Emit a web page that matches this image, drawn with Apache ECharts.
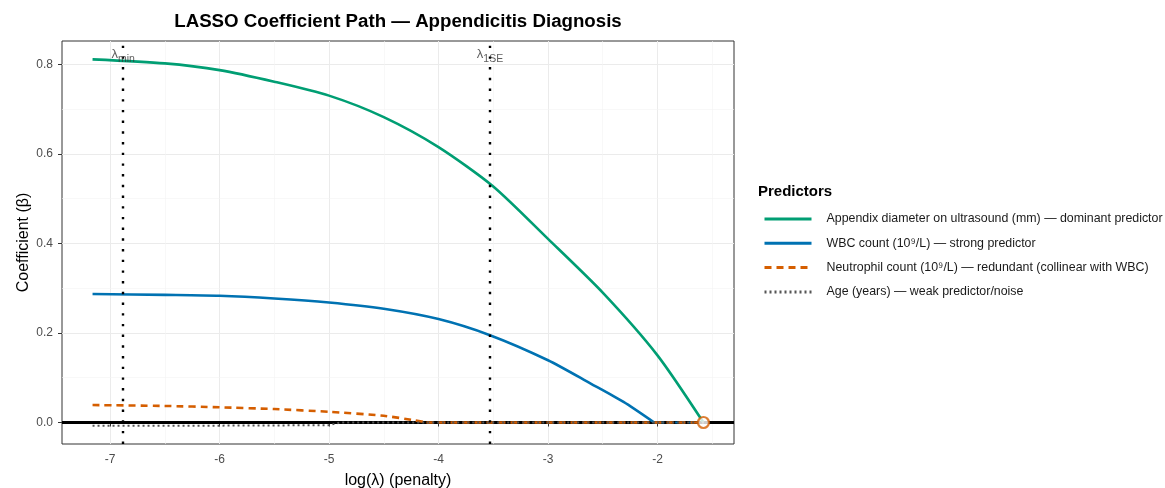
<!DOCTYPE html>
<html><head><meta charset="utf-8">
<script src="https://cdn.jsdelivr.net/npm/echarts@6/dist/echarts.min.js"></script>
<style>html,body{margin:0;padding:0;background:#fff}#c{width:1165px;height:488px}</style>
</head><body><div id="c"></div>
<script>
// ---- data (log lambda, coefficient) ----
const appendixX  = [-7.16, -6.5, -6, -5.5, -5, -4.5, -4, -3.5, -3, -2.5, -2, -1.58];
const appendixY  = [0.811, 0.802, 0.787, 0.761, 0.730, 0.682, 0.615, 0.527, 0.410, 0.290, 0.150, 0.000];
const wbcX       = [-7.16, -6.5, -6, -5.5, -5, -4.5, -4, -3.53, -3, -2.61, -2.31, -2.03];
const wbcY       = [0.287, 0.285, 0.283, 0.277, 0.268, 0.254, 0.231, 0.195, 0.139, 0.087, 0.046, 0.000];
const wbcTailX   = [-2.03, -1.58];
const wbcTailY   = [0.000, 0.000];
const neutroX    = [-7.16, -6.5, -6, -5.5, -5, -4.5, -4.22, -4.11];
const neutroY    = [0.039, 0.037, 0.034, 0.030, 0.024, 0.015, 0.005, 0.000];
const neutroTailX = [-4.11, -1.58];
const neutroTailY = [0.000, 0.000];
const ageX       = [-7.16, -6, -5, -4.9, -1.58];
const ageY       = [-0.007, -0.007, -0.006, 0.000, 0.000];
const seriesNames = [
  'Appendix diameter on ultrasound (mm) — dominant predictor',
  'WBC count (10⁹/L) — strong predictor',
  'Neutrophil count (10⁹/L) — redundant (collinear with WBC)',
  'Age (years) — weak predictor/noise'
];
const lambdaLines = [-6.88, -3.53];
const lambdaSubs  = ['min', '1SE'];
const lambdaLabelY = 0.822;
const entryPoint = [-1.58, 0];
const xTicks = [-7, -6, -5, -4, -3, -2];
const yTicks = [0, 0.2, 0.4, 0.6, 0.8];
const xMinor = [-6.5, -5.5, -4.5, -3.5, -2.5, -1.5];
const yMinor = [0.1, 0.3, 0.5, 0.7];
const xRange = [-7.439, -1.301];
const yRange = [-0.048, 0.852];

const FONT = '"Liberation Sans", Arial, Helvetica, sans-serif';
const zip = (xs, ys) => xs.map((x, i) => [x, ys[i]]);
const colors = ['#009E73', '#0072B2', '#D55E00', '#555555'];

const chart = echarts.init(document.getElementById('c'), null, {renderer: 'canvas'});
const option = {
  animation: false,
  textStyle: {fontFamily: FONT},
  title: [
    {text: 'LASSO Coefficient Path — Appendicitis Diagnosis', left: 398, textAlign: 'center', top: 12, padding: 0,
     textStyle: {fontFamily: FONT, fontSize: 18.7, fontWeight: 'bold', color: '#000'}},
    {text: 'Predictors', left: 758, top: 184, padding: 0,
     textStyle: {fontFamily: FONT, fontSize: 15, fontWeight: 'bold', color: '#000'}}
  ],
  legend: {
    orient: 'vertical', left: 763, top: 213, itemWidth: 47, itemHeight: 14, itemGap: 12.3, padding: 0,
    selectedMode: false, data: seriesNames,
    itemStyle: {opacity: 0},
    lineStyle: {width: 3},
    textStyle: {fontFamily: FONT, fontSize: 12.4, color: '#1a1a1a', padding: [0, 0, 0, 10]}
  },
  grid: {left: 62, right: 431, top: 41, bottom: 44, show: true, borderColor: '#333', borderWidth: 1,
         containLabel: false, outerBoundsMode: 'none'},
  xAxis: {
    type: 'value', min: xRange[0], max: xRange[1],
    name: 'log(λ) (penalty)', nameLocation: 'middle', nameGap: 29, nameMoveOverlap: false,
    nameTextStyle: {fontFamily: FONT, fontSize: 16, color: '#000'},
    axisLine: {show: false},
    axisTick: {show: true, length: 4, lineStyle: {color: '#333'}, customValues: xTicks},
    axisLabel: {color: '#4d4d4d', fontSize: 12, margin: 10, customValues: xTicks,
                formatter: v => String(v)},
    splitLine: {show: true, lineStyle: {color: '#ebebeb', width: 1}}
  },
  yAxis: {
    type: 'value', min: yRange[0], max: yRange[1],
    name: 'Coefficient (β)', nameLocation: 'middle', nameGap: 30, nameRotate: 90, nameMoveOverlap: false,
    nameTextStyle: {fontFamily: FONT, fontSize: 16, color: '#000'},
    axisLine: {show: false},
    axisTick: {show: true, length: 4, lineStyle: {color: '#333'}, customValues: yTicks},
    axisLabel: {color: '#4d4d4d', fontSize: 12, margin: 9, customValues: yTicks,
                formatter: v => v.toFixed(1)},
    splitLine: {show: true, lineStyle: {color: '#ebebeb', width: 1}}
  },
  series: [
    {
      type: 'line', name: '_grid', data: [], z: 0, silent: true,
      markLine: {silent: true, z: 0, symbol: 'none', label: {show: false}, animation: false,
        lineStyle: {color: '#f3f3f3', width: 0.6, type: 'solid'},
        data: xMinor.map(v => ({xAxis: v})).concat(yMinor.map(v => ({yAxis: v})))}
    },
    {
      type: 'line', name: '_zero', data: [], z: 1, silent: true,
      markLine: {silent: true, z: 1, symbol: 'none', label: {show: false}, animation: false,
        lineStyle: {color: '#000', width: 3, type: 'solid'},
        data: [{yAxis: 0}]}
    },
    {type: 'line', name: seriesNames[0], data: zip(appendixX, appendixY), symbol: 'none', smooth: 0.25, z: 3,
     color: colors[0], lineStyle: {color: colors[0], width: 2.6}},
    {type: 'line', name: seriesNames[1], data: zip(wbcX, wbcY), symbol: 'none', smooth: 0.25, z: 3,
     color: colors[1], lineStyle: {color: colors[1], width: 2.6}},
    {type: 'line', name: '_wbcTail', data: zip(wbcTailX, wbcTailY), symbol: 'none', z: 3, silent: true,
     lineStyle: {color: colors[1], width: 2.2, type: [3, 4]}},
    {type: 'line', name: seriesNames[2], data: zip(neutroX, neutroY), symbol: 'none', smooth: 0.2, z: 3,
     color: colors[2], lineStyle: {color: colors[2], width: 2.6, type: [7, 5]}},
    {type: 'line', name: '_neutroTail', data: zip(neutroTailX, neutroTailY), symbol: 'none', z: 3, silent: true,
     lineStyle: {color: colors[2], width: 2.6, type: [7, 5]}},
    {type: 'line', name: seriesNames[3], data: zip(ageX, ageY), symbol: 'none', z: 3,
     color: colors[3], lineStyle: {color: colors[3], width: 2, type: [2, 3]}},
    {
      type: 'line', name: '_lambda', data: [], z: 4, silent: true,
      markLine: {silent: true, z: 4, symbol: 'none', label: {show: false}, animation: false,
        lineStyle: {color: '#000', width: 2.4, type: [2.4, 8.3]},
        data: lambdaLines.map(v => ({xAxis: v}))}
    },
    {
      type: 'scatter', name: '_labels', symbolSize: 0, z: 6, silent: true,
      data: lambdaLines.map((v, i) => ({value: [v, lambdaLabelY], sub: lambdaSubs[i]})),
      label: {show: true, position: 'inside', color: '#333',
        formatter: p => '{l|λ}{s|' + p.data.sub + '}',
        rich: {l: {fontSize: 13, color: '#333', fontFamily: FONT},
               s: {fontSize: 10.5, color: '#333', fontFamily: FONT, padding: [10, 0, 0, 0]}}}
    },
    {
      type: 'scatter', name: '_entry', data: [entryPoint], symbol: 'circle', symbolSize: 11, z: 7, silent: true,
      itemStyle: {color: '#fff', borderColor: '#D55E00', borderWidth: 2.2}
    }
  ]
};
chart.setOption(option);
</script>
</body></html>
